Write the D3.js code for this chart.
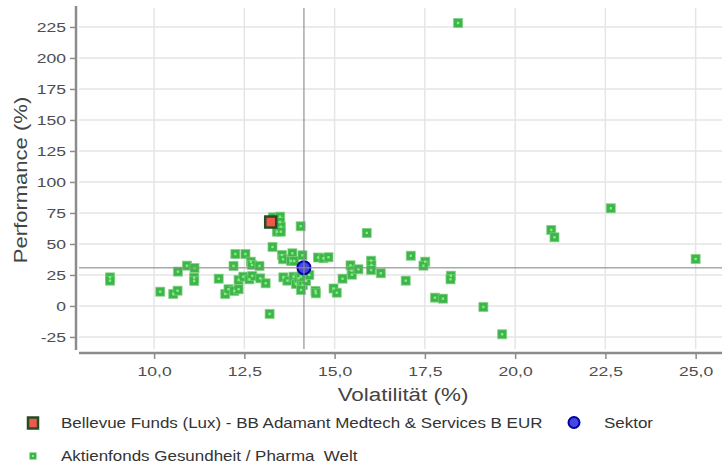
<!DOCTYPE html>
<html><head><meta charset="utf-8">
<script src="https://cdn.jsdelivr.net/npm/d3@7"></script>
<style>
html,body{margin:0;padding:0;background:#fff;}
svg{display:block;font-family:"Liberation Sans",Arial,sans-serif;}
text{white-space:pre;}
</style></head>
<body>
<svg id="chart" width="722" height="463"></svg>
<script>
// ---- data ----
const peerVol  = [8.78,8.78,10.17,10.53,10.65,10.66,10.91,11.12,11.11,11.11,11.79,11.97,12.06,12.22,12.34,12.25,12.53,12.2,12.34,12.47,12.64,12.72,12.94,13.09,12.68,12.71,12.92,13.28,13.2,13.29,13.49,13.49,13.51,13.4,13.51,14.06,13.54,13.57,13.83,13.79,13.88,14.11,14.54,14.69,14.83,13.58,13.69,13.86,13.93,14.0,14.12,14.07,14.21,14.3,14.06,14.47,14.48,14.97,15.06,15.22,15.44,15.47,15.48,15.66,15.89,16.01,16.02,16.01,16.28,17.11,17.51,17.46,16.97,18.22,18.21,17.78,18.0,19.12,19.64,18.42,22.65,21.0,21.09,25.0];
const peerPerf = [23.1,20.4,11.5,9.7,12.3,27.7,32.5,30.6,22.8,20.2,22.0,9.7,13.5,12.1,13.5,41.9,41.9,32.3,21.0,23.6,21.5,24.2,22.3,18.3,35.7,33.1,32.3,47.6,-6.4,71.5,72.0,67.7,64.0,59.9,59.9,64.3,41.1,37.7,42.5,36.3,36.3,40.9,39.1,38.5,39.3,23.1,20.4,23.6,17.7,22.3,16.9,12.9,20.2,25.0,23.6,12.1,10.2,14.1,10.7,22.0,32.8,28.5,25.2,29.6,58.9,36.5,33.1,29.0,26.4,40.5,35.7,32.5,20.4,24.4,21.5,6.7,5.9,-0.8,-22.8,228.2,78.8,61.3,55.4,37.9];
const fundVol = [13.23];
const fundPerf = [67.7];
const sectorVol = [14.15];
const sectorPerf = [30.9];
const xTicks = [10, 12.5, 15, 17.5, 20, 22.5, 25];
const yTicks = [-25, 0, 25, 50, 75, 100, 125, 150, 175, 200, 225];
const legendLabels = ["Bellevue Funds (Lux) - BB Adamant Medtech & Services B EUR", "Sektor", "Aktienfonds Gesundheit / Pharma  Welt"];
const xTitle = "Volatilität (%)";
const yTitle = "Performance (%)";

// ---- layout ----
const svg = d3.select("#chart");
const L = 79, R = 722, T = 8, B = 349;
const x = d3.scaleLinear().domain([7.92, 25.73]).range([L, R]);
const y = d3.scaleLinear().domain([-34.7, 240.3]).range([B, T]);
const de = d3.formatLocale({decimal: ",", thousands: ".", grouping: [3], currency: ["", "€"], minus: "-"});
const fx = de.format(".1f");
const fy = de.format("d");

const grid = "#e5e5e5", axisCol = "#8c8c8c", txt = "#4d4d4d";

// gridlines
svg.append("g").selectAll("line").data(yTicks).join("line")
  .attr("x1", L).attr("x2", R).attr("y1", d => y(d)).attr("y2", d => y(d))
  .attr("stroke", grid).attr("stroke-width", 1.5);
svg.append("g").selectAll("line").data(xTicks).join("line")
  .attr("y1", T).attr("y2", B).attr("x1", d => x(d)).attr("x2", d => x(d))
  .attr("stroke", grid).attr("stroke-width", 1.5);

// axes
const yAxis = d3.axisLeft(y).tickValues(yTicks).tickFormat(fy).tickSize(6).tickPadding(4);
const gy = svg.append("g").attr("transform", "translate(76,0)").call(yAxis);
gy.select(".domain").remove();
gy.append("line").attr("x1", 0).attr("x2", 0).attr("y1", 6).attr("y2", 350)
  .attr("stroke", axisCol).attr("stroke-width", 2.5);
gy.selectAll(".tick line").attr("stroke", axisCol).attr("stroke-width", 1.5);
gy.selectAll(".tick text").attr("fill", txt).attr("font-size", 13)
  .attr("font-family", "Liberation Sans, Arial, sans-serif")
  .each(function(){
    const t = d3.select(this);
    const xx = +t.attr("x");
    t.attr("x", null).attr("transform", `translate(${xx},0) scale(1.35,1)`);
  });

const xAxis = d3.axisBottom(x).tickValues(xTicks).tickFormat(fx).tickSize(6).tickPadding(8);
const gx = svg.append("g").attr("transform", "translate(0,353)").call(xAxis);
gx.select(".domain").remove();
gx.append("line").attr("x1", 79).attr("x2", 722).attr("y1", 0).attr("y2", 0)
  .attr("stroke", axisCol).attr("stroke-width", 2.5);
gx.selectAll(".tick line").attr("stroke", axisCol).attr("stroke-width", 1.5);
gx.selectAll(".tick text").attr("fill", txt).attr("font-size", 13)
  .attr("font-family", "Liberation Sans, Arial, sans-serif")
  .each(function(){
    const t = d3.select(this);
    const yy = +t.attr("y");
    t.attr("y", null).attr("transform", `translate(0,${yy}) scale(1.35,1)`);
  });

// axis titles
svg.append("text").attr("transform", "translate(403,401) scale(1.18,1)")
  .attr("text-anchor", "middle").attr("font-size", 19).attr("fill", "#444").text(xTitle);
svg.append("text").attr("transform", "translate(27,180) rotate(-90) scale(1.16,1)")
  .attr("text-anchor", "middle").attr("font-size", 19).attr("fill", "#444").text(yTitle);

// peers
const peers = peerVol.map((v, i) => ({v, p: peerPerf[i]}));
const pg = svg.append("g");
pg.selectAll("rect.pk").data(peers).join("rect").attr("class", "pk")
  .attr("x", d => x(d.v) - 4.5).attr("y", d => y(d.p) - 4.5)
  .attr("width", 9).attr("height", 9)
  .attr("fill", "#3db54a").attr("stroke", "#7fd07f").attr("stroke-width", 1).attr("stroke-opacity", 0.7);
pg.selectAll("rect.pc").data(peers).join("rect").attr("class", "pc")
  .attr("x", d => x(d.v) - 1.2).attr("y", d => y(d.p) - 1.2)
  .attr("width", 2.4).attr("height", 2.4).attr("fill", "#7ef07e");

// fund
svg.append("g").selectAll("rect").data(fundVol).join("rect")
  .attr("x", (d, i) => x(d) - 5.5).attr("y", (d, i) => y(fundPerf[i]) - 5.5)
  .attr("width", 11).attr("height", 11)
  .attr("fill", "#f2574c").attr("stroke", "#234d23").attr("stroke-width", 2.5);

// sector
svg.append("g").selectAll("circle").data(sectorVol).join("circle")
  .attr("cx", d => x(d)).attr("cy", (d, i) => y(sectorPerf[i])).attr("r", 6.5)
  .attr("fill", "#4646e0").attr("stroke", "#0000a8").attr("stroke-width", 2);

// reference lines
svg.append("line").attr("x1", L).attr("x2", R)
  .attr("y1", y(sectorPerf[0])).attr("y2", y(sectorPerf[0]))
  .attr("stroke", "#8c8c8c").attr("stroke-opacity", 0.75).attr("stroke-width", 1.5);
svg.append("line").attr("y1", T).attr("y2", B)
  .attr("x1", x(sectorVol[0])).attr("x2", x(sectorVol[0]))
  .attr("stroke", "#8c8c8c").attr("stroke-opacity", 0.75).attr("stroke-width", 1.5);

// legend
const lg = svg.append("g");
lg.append("rect").attr("x", 28).attr("y", 417.5).attr("width", 10).attr("height", 11)
  .attr("fill", "#f2574c").attr("stroke", "#234d23").attr("stroke-width", 2.5);
lg.append("text").attr("transform", "translate(61,428) scale(1.17,1)")
  .attr("font-size", 14.5).attr("fill", "#333").text(legendLabels[0]);
lg.append("circle").attr("cx", 574).attr("cy", 422.5).attr("r", 5.5)
  .attr("fill", "#4646e0").attr("stroke", "#0000a8").attr("stroke-width", 2);
lg.append("text").attr("transform", "translate(604,428) scale(1.17,1)")
  .attr("font-size", 14.5).attr("fill", "#333").text(legendLabels[1]);
lg.append("rect").attr("x", 29.5).attr("y", 452.5).attr("width", 7).attr("height", 7)
  .attr("fill", "#3db54a");
lg.append("rect").attr("x", 32).attr("y", 455).attr("width", 2).attr("height", 2)
  .attr("fill", "#7ef07e");
lg.append("text").attr("transform", "translate(61,461) scale(1.17,1)")
  .attr("font-size", 14.5).attr("fill", "#333").text(legendLabels[2]);
</script>
</body></html>
